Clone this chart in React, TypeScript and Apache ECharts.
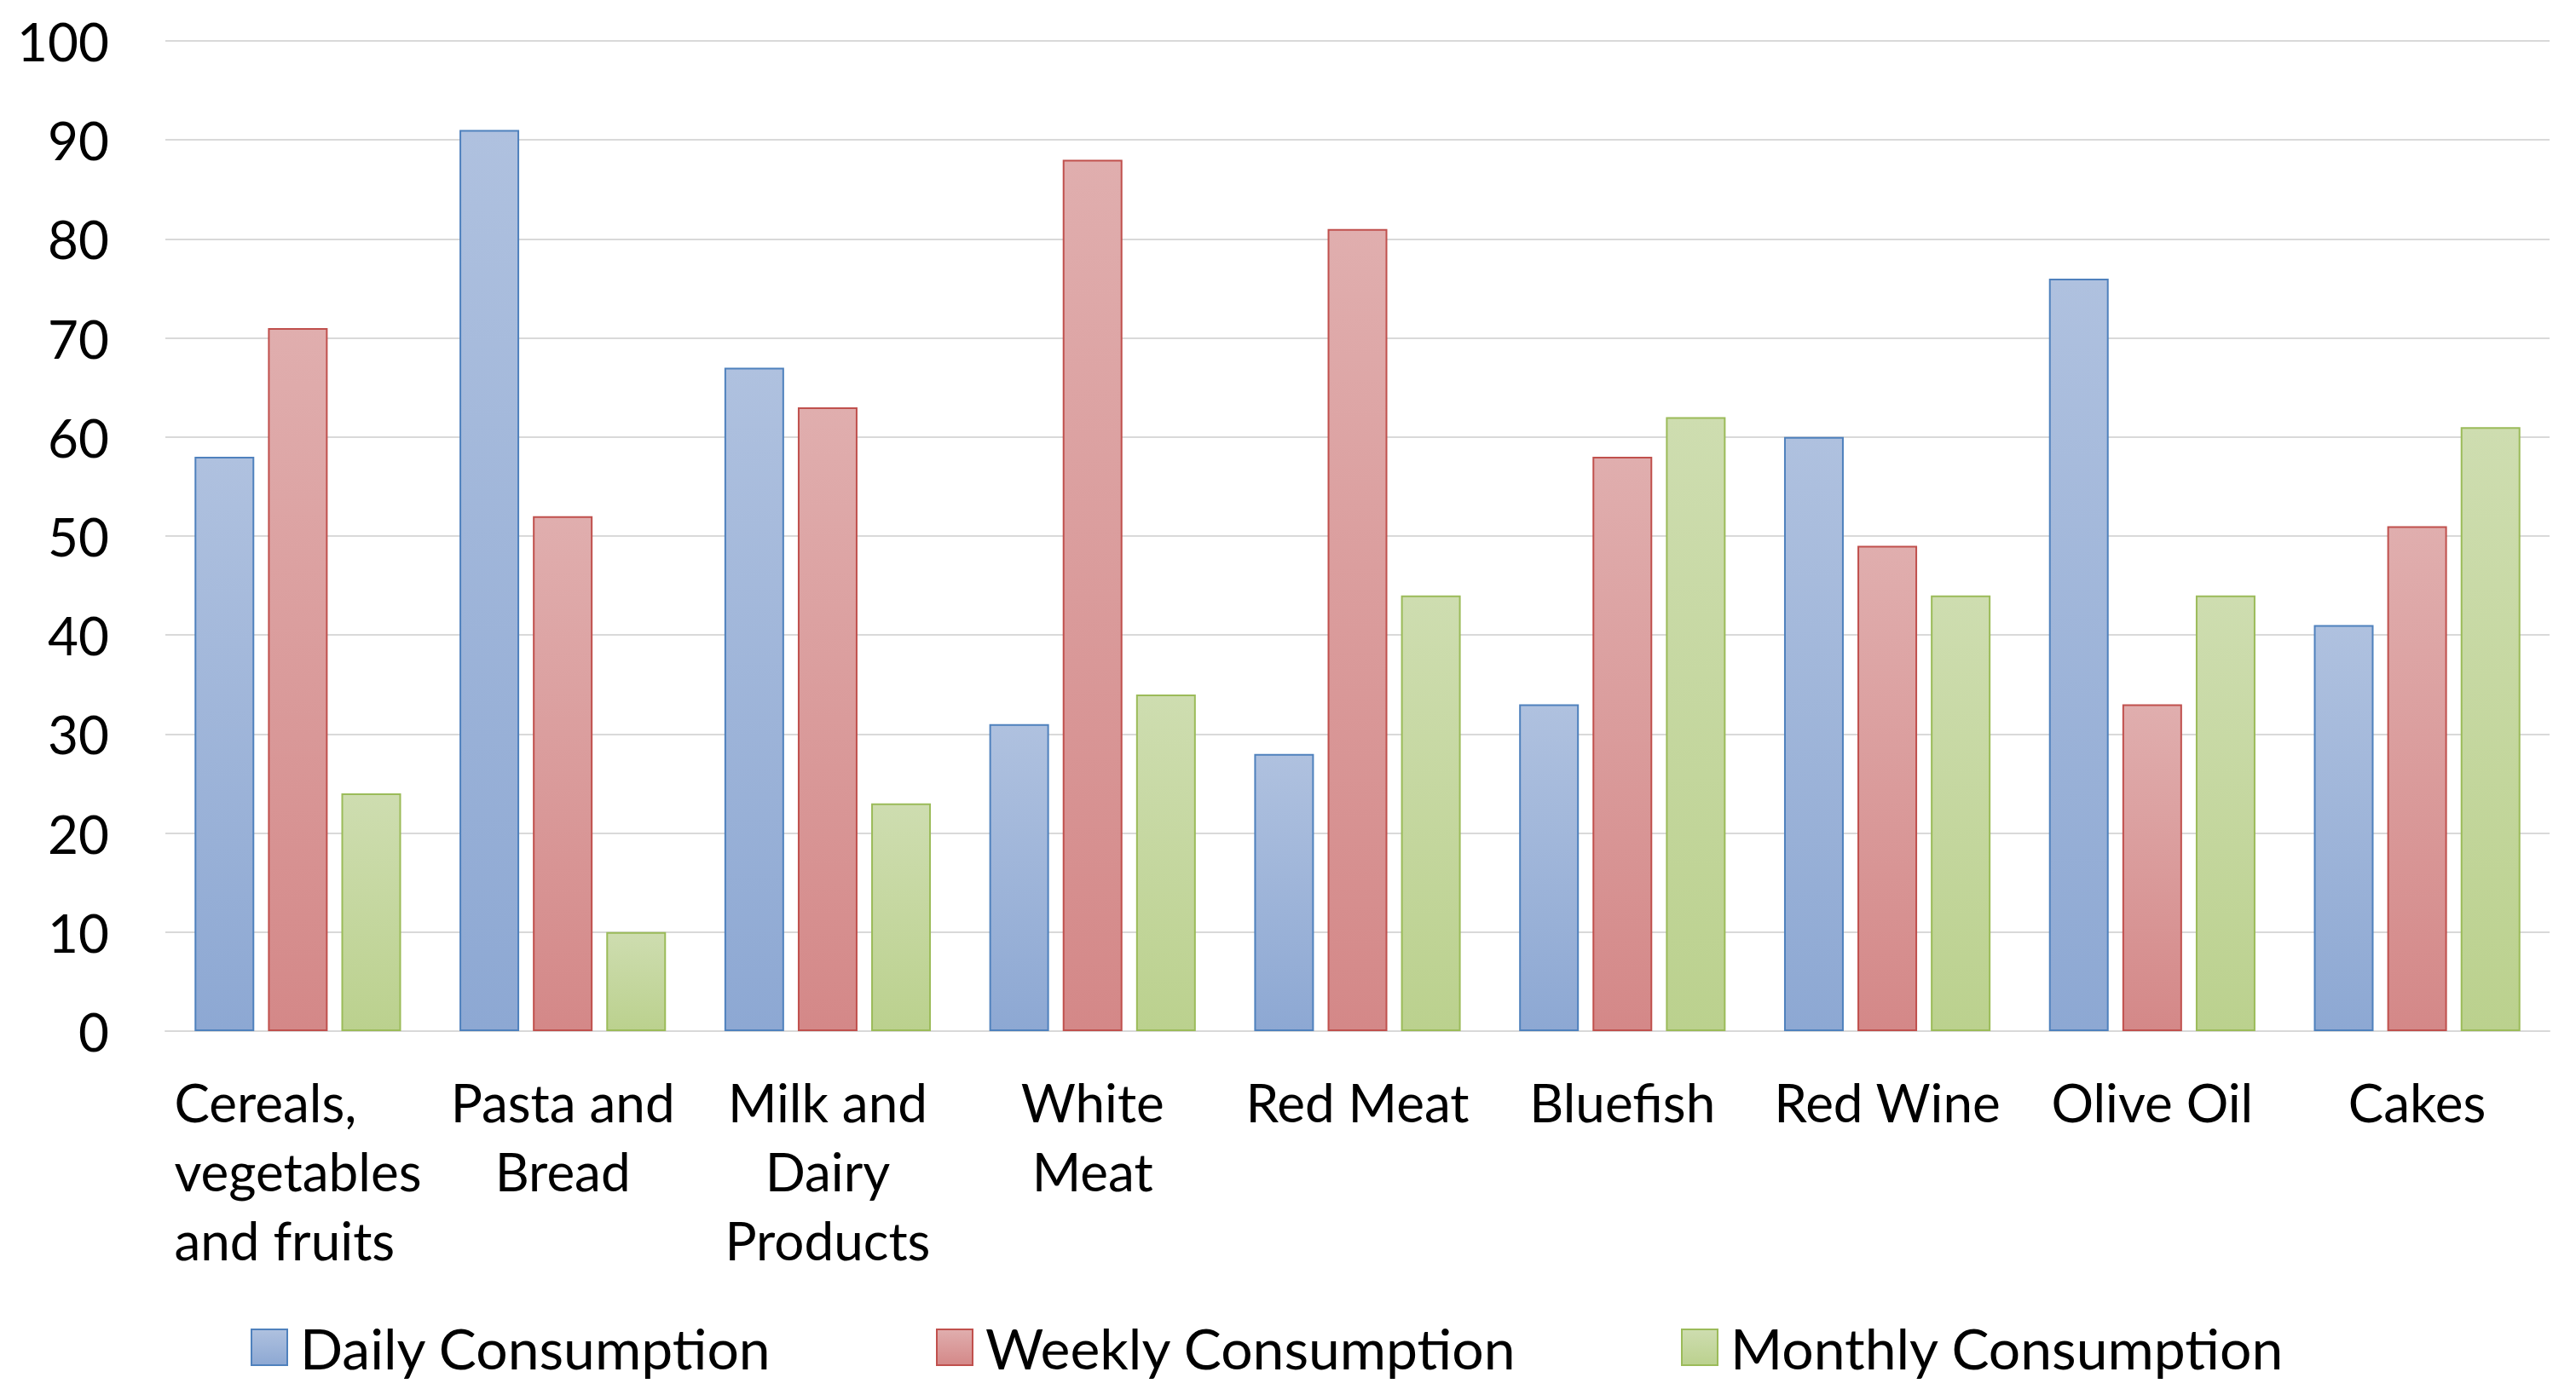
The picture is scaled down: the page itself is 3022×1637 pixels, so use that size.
import React, { useEffect, useRef } from "react";
import * as echarts from "echarts";

const categories = [
  "Cereals,\nvegetables\nand fruits",
  "Pasta and\nBread",
  "Milk and\nDairy\nProducts",
  "White\nMeat",
  "Red Meat",
  "Bluefish",
  "Red Wine",
  "Olive Oil",
  "Cakes",
];
const seriesNames = ["Daily Consumption", "Weekly Consumption", "Monthly Consumption"];
const daily = [58, 91, 67, 31, 28, 33, 60, 76, 41];
const weekly = [71, 52, 63, 88, 81, 58, 49, 33, 51];
const monthly = [24, 10, 23, 34, 44, 62, 44, 44, 61];
const yTicks = { min: 0, max: 100, interval: 10 };

const FONT = "Lato";

function grad(top: string, bottom: string) {
  return {
    type: "linear",
    x: 0,
    y: 0,
    x2: 0,
    y2: 1,
    colorStops: [
      { offset: 0, color: top },
      { offset: 1, color: bottom },
    ],
  };
}

const styles = [
  { fill: grad("#AFC1DF", "#8DA8D3"), border: "#4F81BD" },
  { fill: grad("#E0AEAE", "#D48888"), border: "#C0504D" },
  { fill: grad("#CEDDB0", "#BBD18E"), border: "#9BBB59" },
];

export default function App() {
  const ref = useRef<HTMLDivElement>(null);
  useEffect(() => {
    if (!ref.current) return;
    const chart = echarts.init(ref.current, null, { renderer: "svg" });
    const values = [daily, weekly, monthly];
    const legendLefts = [294, 1098, 1972];
    chart.setOption({
      animation: false,
      backgroundColor: "#ffffff",
      textStyle: { fontFamily: FONT },
      grid: { left: 194, right: 31, top: 48, bottom: 427, containLabel: false },
      legend: seriesNames.map((n, i) => ({
        data: [{ name: n, icon: "rect" }],
        left: legendLefts[i],
        top: 1545,
        padding: 0,
        itemWidth: 42,
        itemHeight: 42,
        itemGap: 0,
        textStyle: {
          fontFamily: FONT,
          fontSize: 66,
          color: "#000",
          padding: [0, 0, 0, 10],
          lineHeight: 72,
        },
      })),
      xAxis: {
        type: "category",
        data: categories,
        axisLine: { show: true, lineStyle: { color: "#D9D9D9", width: 2 } },
        axisTick: { show: false },
        axisLabel: {
          interval: 0,
          margin: 42,
          fontFamily: FONT,
          fontSize: 62,
          lineHeight: 81,
          color: "#000",
          align: "center",
          formatter: (v: string, idx: number) => {
            if (idx === 0) {
              return v
                .split("\n")
                .map((l) => "{l|" + l + "}")
                .join("\n");
            }
            return v;
          },
          rich: {
            l: {
              width: 290,
              align: "left",
              fontFamily: FONT,
              fontSize: 62,
              lineHeight: 81,
              color: "#000",
            },
          },
        },
      },
      yAxis: {
        type: "value",
        min: yTicks.min,
        max: yTicks.max,
        interval: yTicks.interval,
        axisLine: { show: false },
        axisTick: { show: false },
        splitLine: { lineStyle: { color: "#D9D9D9", width: 2 } },
        axisLabel: { fontFamily: FONT, fontSize: 62, color: "#000", margin: 66 },
      },
      series: seriesNames.map((n, i) => ({
        name: n,
        type: "bar",
        data: values[i],
        barWidth: 70,
        barGap: "23%",
        itemStyle: { color: styles[i].fill, borderColor: styles[i].border, borderWidth: 2 },
      })),
    });
    return () => chart.dispose();
  }, []);
  return (
    <div
      ref={ref}
      style={{ position: "absolute", left: 0, top: 0, width: 3022, height: 1637 }}
    />
  );
}
